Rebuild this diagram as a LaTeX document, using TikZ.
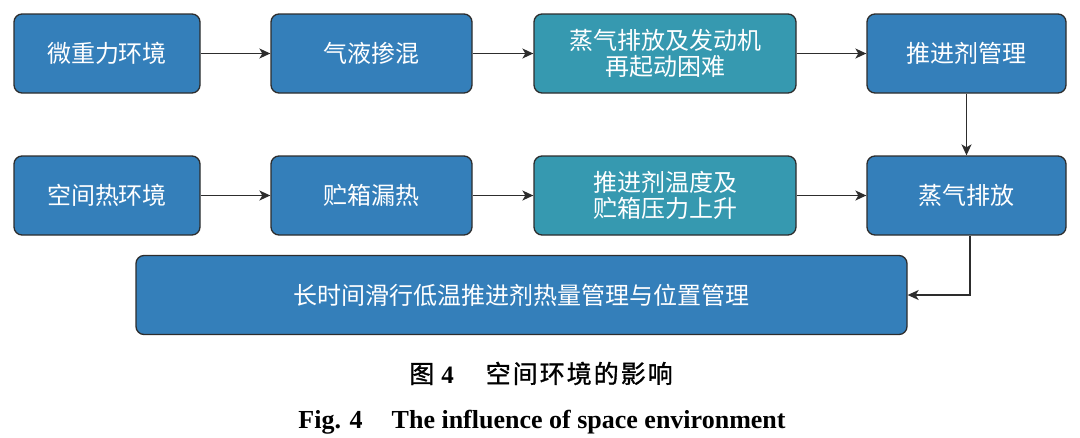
\documentclass[tikz,border=0pt]{standalone}
\usepackage{fontspec}
\setmainfont{Liberation Serif}
\newfontfamily\cjk{Noto Sans CJK SC}
\newfontfamily\cjkb[FakeBold=1.2]{Noto Sans CJK SC}
\usetikzlibrary{arrows.meta}
\definecolor{bblue}{RGB}{52,127,186}
\definecolor{bteal}{RGB}{54,153,176}
\definecolor{bline}{RGB}{45,45,45}
\tikzset{
  box/.style={draw=bline, line width=1.3pt, rounded corners=8pt, fill=bblue,
    text=white, inner sep=0pt, align=center, minimum height=79pt,
    font=\cjk\fontsize{24}{26.5}\selectfont},
  tealbox/.style={box, fill=bteal},
  conn/.style={draw=bline, line width=1.4pt,
    -{Stealth[length=11pt,width=10pt,inset=3pt]}}
}
\begin{document}
\begin{tikzpicture}[x=1pt,y=-1pt]
\useasboundingbox (0,0) rectangle (1080,437);
% row 1
\node[box, minimum width=186pt] (a1) at (107,53.5) {微重力环境};
\node[box, minimum width=201pt] (a2) at (371.5,53.5) {气液掺混};
\node[tealbox, minimum width=262pt] (a3) at (665,53.5) {蒸气排放及发动机\\再起动困难};
\node[box, minimum width=199pt] (a4) at (966.5,53.5) {推进剂管理};
% row 2
\node[box, minimum width=186pt] (b1) at (107,195.5) {空间热环境};
\node[box, minimum width=201pt] (b2) at (371.5,195.5) {贮箱漏热};
\node[tealbox, minimum width=262pt] (b3) at (665,195.5) {推进剂温度及\\贮箱压力上升};
\node[box, minimum width=199pt] (b4) at (966.5,195.5) {蒸气排放};
% row 3
\node[box, minimum width=771pt] (c1) at (521.5,295) {长时间滑行低温推进剂热量管理与位置管理};
% connectors
\draw[conn] (a1) -- (a2);
\draw[conn] (a2) -- (a3);
\draw[conn] (a3) -- (a4);
\draw[conn] (a4) -- (b4);
\draw[conn] (b1) -- (b2);
\draw[conn] (b2) -- (b3);
\draw[conn] (b3) -- (b4);
\draw[conn] ([xshift=3.5pt]b4.south) |- (c1.east);
% captions
\node[anchor=base, inner sep=0pt] (cap1) at (541,383)
  {\fontsize{25}{28}\selectfont{\cjkb 图}\hspace{7pt}{\bfseries 4}\hspace{32pt}{\cjkb 空\kern2pt 间\kern2pt 环\kern2pt 境\kern2pt 的\kern2pt 影\kern2pt 响}};
\node[anchor=base, inner sep=0pt] (cap2) at (542,428)
  {\fontsize{26}{30}\selectfont\bfseries Fig. 4\hspace{29pt}The influence of space environment};
\end{tikzpicture}
\end{document}
